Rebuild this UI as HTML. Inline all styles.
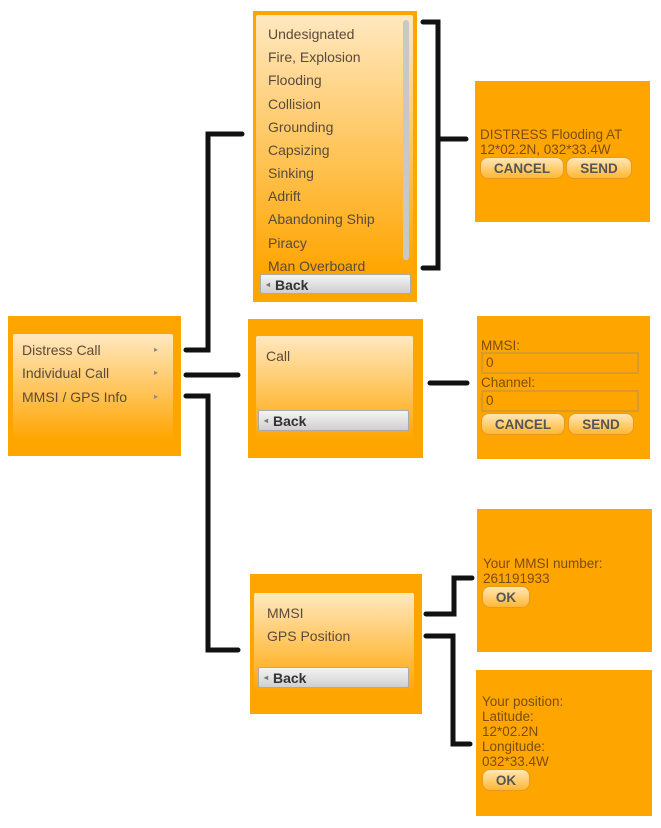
<!DOCTYPE html>
<html><head><style>
body{margin:0;width:661px;height:828px;background:#fff;position:relative;font-family:"Liberation Sans",sans-serif;overflow:hidden}
.b{position:absolute;background:#FFA500}
.p{position:absolute;background:linear-gradient(#FFE8C0,#FFA500);border-radius:2px}
.t{position:absolute;font-size:14px;color:#5a4a3a;white-space:nowrap}
.o{position:absolute;font-size:13.5px;color:#7a4e10;line-height:15px;white-space:nowrap}
.back{position:absolute;height:20px;background:linear-gradient(#f4f4f4,#cfcfcf);border:1px solid #aaa;border-radius:2px;font-weight:bold;font-size:14px;color:#333;line-height:20px;box-sizing:border-box;padding-left:14px}
.back:before{content:"◂";position:absolute;left:5px;font-size:8px;color:#777}
.btn{position:absolute;height:22px;background:linear-gradient(#ffe7b8,#ffb733);border:1px solid #e59a20;border-radius:8px;font-weight:bold;font-size:13.5px;color:#555;text-align:center;line-height:21px;box-sizing:border-box}
.in{position:absolute;height:22px;border:2px solid #d99a2a;box-sizing:border-box;font-size:13.5px;color:#7a4e10;padding-left:3px;line-height:18px}
.ar{position:absolute;font-size:8px;color:#888}
svg{position:absolute;left:0;top:0}
</style></head><body>
<!-- main -->
<div class="b" style="left:8px;top:316px;width:173px;height:140px"></div>
<div class="p" style="left:13px;top:334px;width:160px;height:106px"></div>
<div class="t" style="left:22px;top:342px">Distress Call</div>
<div class="t" style="left:22px;top:365px">Individual Call</div>
<div class="t" style="left:22px;top:389px">MMSI / GPS Info</div>
<div class="ar" style="left:154px;top:345px">▸</div>
<div class="ar" style="left:154px;top:368px">▸</div>
<div class="ar" style="left:154px;top:392px">▸</div>
<!-- distress list -->
<div class="b" style="left:253px;top:11px;width:164px;height:291px"></div>
<div class="p" style="left:256px;top:15px;width:157px;height:258px"></div>
<div style="position:absolute;left:403px;top:20px;width:6px;height:240px;background:#c8c8c8;border-radius:3px"></div>
<div class="t" style="left:268px;top:26px">Undesignated</div>
<div class="t" style="left:268px;top:49px">Fire, Explosion</div>
<div class="t" style="left:268px;top:72px">Flooding</div>
<div class="t" style="left:268px;top:96px">Collision</div>
<div class="t" style="left:268px;top:119px">Grounding</div>
<div class="t" style="left:268px;top:142px">Capsizing</div>
<div class="t" style="left:268px;top:165px">Sinking</div>
<div class="t" style="left:268px;top:188px">Adrift</div>
<div class="t" style="left:268px;top:211px">Abandoning Ship</div>
<div class="t" style="left:268px;top:235px">Piracy</div>
<div class="t" style="left:268px;top:258px">Man Overboard</div>
<div class="back" style="left:260px;top:274px;width:151px">Back</div>
<!-- distress confirm -->
<div class="b" style="left:475px;top:81px;width:175px;height:141px"></div>
<div class="o" style="left:480px;top:127px">DISTRESS Flooding AT<br>12*02.2N, 032*33.4W</div>
<div class="btn" style="left:480px;top:157px;width:84px">CANCEL</div>
<div class="btn" style="left:566px;top:157px;width:66px">SEND</div>
<!-- call -->
<div class="b" style="left:248px;top:319px;width:175px;height:139px"></div>
<div class="p" style="left:256px;top:336px;width:157px;height:104px"></div>
<div class="t" style="left:266px;top:348px">Call</div>
<div class="back" style="left:258px;top:410px;width:151px;height:21px">Back</div>
<!-- individual -->
<div class="b" style="left:477px;top:316px;width:173px;height:143px"></div>
<div class="o" style="left:481px;top:338px">MMSI:</div>
<div class="in" style="left:481px;top:352px;width:158px">0</div>
<div class="o" style="left:481px;top:375px">Channel:</div>
<div class="in" style="left:481px;top:390px;width:158px">0</div>
<div class="btn" style="left:481px;top:413px;width:84px">CANCEL</div>
<div class="btn" style="left:568px;top:413px;width:66px">SEND</div>
<!-- mmsi/gps -->
<div class="b" style="left:250px;top:574px;width:172px;height:140px"></div>
<div class="p" style="left:254px;top:593px;width:160px;height:100px"></div>
<div class="t" style="left:267px;top:605px">MMSI</div>
<div class="t" style="left:267px;top:628px">GPS Position</div>
<div class="back" style="left:258px;top:667px;width:151px;height:21px">Back</div>
<!-- mmsi box -->
<div class="b" style="left:477px;top:509px;width:175px;height:143px"></div>
<div class="o" style="left:483px;top:556px">Your MMSI number:<br>261191933</div>
<div class="btn" style="left:482px;top:586px;width:48px">OK</div>
<!-- position box -->
<div class="b" style="left:476px;top:670px;width:176px;height:146px"></div>
<div class="o" style="left:482px;top:694px">Your position:<br>Latitude:<br>12*02.2N<br>Longitude:<br>032*33.4W</div>
<div class="btn" style="left:482px;top:769px;width:48px">OK</div>
<svg width="661" height="828" fill="none" stroke="#111" stroke-width="5" stroke-linecap="round" stroke-linejoin="miter">
<path d="M186 350H208V134H242"/>
<path d="M186 375H238"/>
<path d="M186 396H208V650H238"/>
<path d="M423 22H438V268H423M438 139H466"/>
<path d="M430 383H467"/>
<path d="M426 614H454V578H472"/>
<path d="M426 636H453V744H470"/>
</svg>
</body></html>
